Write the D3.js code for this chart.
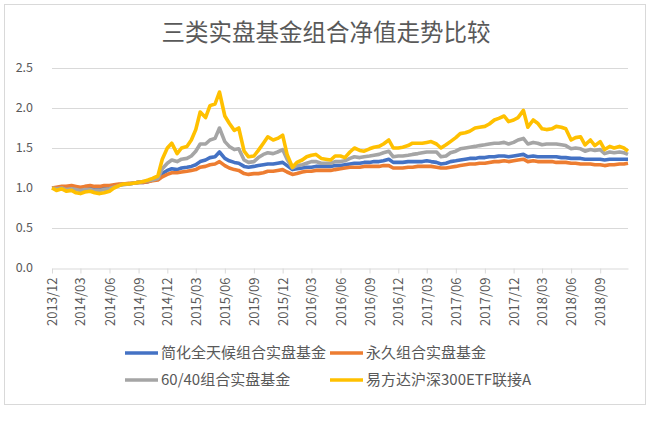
<!DOCTYPE html>
<html>
<head>
<meta charset="utf-8">
<script src="https://cdn.jsdelivr.net/npm/d3@7"></script>
<style>
  body { margin: 0; background: #fff; }
  text { font-family: "Noto Sans CJK SC", "Noto Sans", sans-serif; }
</style>
</head>
<body>
<div id="chart"></div>
<script>
// semi-monthly sample dates
const dates = [
  "2013-12-01","2013-12-15","2014-01-01","2014-01-15","2014-02-01","2014-02-15","2014-03-01","2014-03-15",
  "2014-04-01","2014-04-15","2014-05-01","2014-05-15","2014-06-01","2014-06-15","2014-07-01","2014-07-15",
  "2014-08-01","2014-08-15","2014-09-01","2014-09-15","2014-10-01","2014-10-15","2014-11-01","2014-11-15",
  "2014-12-01","2014-12-15","2015-01-01","2015-01-15","2015-02-01","2015-02-15","2015-03-01","2015-03-15",
  "2015-04-01","2015-04-15","2015-05-01","2015-05-15","2015-06-01","2015-06-15","2015-07-01","2015-07-15",
  "2015-08-01","2015-08-15","2015-09-01","2015-09-15","2015-10-01","2015-10-15","2015-11-01","2015-11-15",
  "2015-12-01","2015-12-15","2016-01-01","2016-01-15","2016-02-01","2016-02-15","2016-03-01","2016-03-15",
  "2016-04-01","2016-04-15","2016-05-01","2016-05-15","2016-06-01","2016-06-15","2016-07-01","2016-07-15",
  "2016-08-01","2016-08-15","2016-09-01","2016-09-15","2016-10-01","2016-10-15","2016-11-01","2016-11-15",
  "2016-12-01","2016-12-15","2017-01-01","2017-01-15","2017-02-01","2017-02-15","2017-03-01","2017-03-15",
  "2017-04-01","2017-04-15","2017-05-01","2017-05-15","2017-06-01","2017-06-15","2017-07-01","2017-07-15",
  "2017-08-01","2017-08-15","2017-09-01","2017-09-15","2017-10-01","2017-10-15","2017-11-01","2017-11-15",
  "2017-12-01","2017-12-15","2018-01-01","2018-01-15","2018-02-01","2018-02-15","2018-03-01","2018-03-15",
  "2018-04-01","2018-04-15","2018-05-01","2018-05-15","2018-06-01","2018-06-15","2018-07-01","2018-07-15",
  "2018-08-01","2018-08-15","2018-09-01","2018-09-15","2018-10-01","2018-10-15","2018-11-01","2018-11-15",
  "2018-11-28"
];

// 简化全天候组合实盘基金
const allWeather = [
  1.00,1.00,1.01,1.00,1.01,1.00,1.00,1.00,1.01,1.00,1.00,1.01,1.02,1.03,1.04,1.05,
  1.05,1.06,1.07,1.07,1.08,1.10,1.11,1.18,1.22,1.24,1.23,1.25,1.26,1.27,1.29,1.33,
  1.35,1.38,1.39,1.45,1.37,1.34,1.32,1.31,1.27,1.26,1.27,1.28,1.29,1.30,1.30,1.31,
  1.32,1.28,1.23,1.24,1.25,1.26,1.26,1.27,1.27,1.27,1.27,1.28,1.28,1.29,1.30,1.31,
  1.31,1.32,1.32,1.33,1.33,1.34,1.36,1.32,1.32,1.32,1.33,1.33,1.33,1.33,1.34,1.33,
  1.32,1.30,1.31,1.33,1.34,1.35,1.36,1.37,1.37,1.38,1.38,1.39,1.39,1.40,1.40,1.39,
  1.40,1.41,1.42,1.39,1.40,1.39,1.39,1.39,1.39,1.39,1.38,1.38,1.37,1.37,1.37,1.36,
  1.36,1.36,1.36,1.35,1.36,1.36,1.36,1.36,1.36
];

// 永久组合实盘基金
const permanent = [
  1.00,1.01,1.02,1.02,1.03,1.02,1.01,1.02,1.03,1.02,1.02,1.03,1.03,1.04,1.05,1.05,
  1.06,1.06,1.07,1.07,1.08,1.09,1.10,1.14,1.17,1.19,1.19,1.20,1.21,1.22,1.23,1.26,
  1.27,1.29,1.30,1.33,1.28,1.25,1.23,1.22,1.18,1.17,1.18,1.18,1.19,1.21,1.21,1.22,
  1.23,1.20,1.17,1.18,1.20,1.21,1.21,1.22,1.22,1.22,1.22,1.23,1.24,1.25,1.26,1.26,
  1.26,1.27,1.27,1.27,1.27,1.28,1.28,1.25,1.25,1.25,1.26,1.26,1.27,1.27,1.27,1.27,
  1.26,1.25,1.25,1.26,1.27,1.28,1.29,1.30,1.30,1.31,1.31,1.32,1.33,1.33,1.34,1.33,
  1.34,1.35,1.36,1.33,1.34,1.33,1.33,1.33,1.33,1.32,1.32,1.32,1.31,1.31,1.30,1.30,
  1.30,1.29,1.29,1.28,1.29,1.29,1.30,1.30,1.31
];

// 60/40组合实盘基金
const sixtyForty = [
  1.00,0.99,1.00,0.98,0.99,0.98,0.97,0.98,0.98,0.97,0.97,0.98,0.99,1.01,1.03,1.04,
  1.05,1.06,1.07,1.08,1.09,1.10,1.12,1.24,1.31,1.35,1.33,1.36,1.37,1.40,1.46,1.55,
  1.55,1.60,1.62,1.75,1.58,1.52,1.48,1.49,1.35,1.32,1.33,1.38,1.42,1.44,1.43,1.45,
  1.48,1.36,1.25,1.28,1.29,1.31,1.33,1.33,1.31,1.31,1.31,1.33,1.33,1.34,1.37,1.39,
  1.38,1.39,1.40,1.41,1.42,1.44,1.46,1.39,1.40,1.40,1.41,1.42,1.43,1.44,1.45,1.45,
  1.45,1.39,1.40,1.44,1.46,1.49,1.50,1.51,1.52,1.53,1.54,1.55,1.56,1.56,1.57,1.55,
  1.57,1.60,1.62,1.55,1.57,1.56,1.54,1.55,1.55,1.55,1.54,1.53,1.49,1.50,1.49,1.46,
  1.48,1.47,1.48,1.43,1.45,1.44,1.45,1.44,1.42
];

// 易方达沪深300ETF联接A
const csi300 = [
  1.00,0.97,0.99,0.96,0.97,0.94,0.93,0.95,0.96,0.94,0.93,0.94,0.96,1.00,1.03,1.05,
  1.05,1.06,1.07,1.08,1.10,1.12,1.15,1.36,1.50,1.56,1.43,1.50,1.52,1.60,1.73,1.95,
  1.88,2.03,2.05,2.20,1.90,1.81,1.72,1.75,1.46,1.39,1.40,1.47,1.56,1.64,1.60,1.62,
  1.66,1.42,1.26,1.32,1.35,1.39,1.41,1.42,1.37,1.36,1.35,1.40,1.40,1.38,1.45,1.50,
  1.47,1.46,1.49,1.51,1.52,1.55,1.60,1.50,1.50,1.51,1.53,1.56,1.56,1.56,1.57,1.58,
  1.55,1.50,1.54,1.58,1.63,1.68,1.69,1.71,1.75,1.76,1.77,1.80,1.85,1.87,1.90,1.83,
  1.85,1.88,1.97,1.76,1.85,1.81,1.74,1.73,1.74,1.77,1.76,1.74,1.60,1.63,1.64,1.54,
  1.60,1.53,1.58,1.48,1.52,1.50,1.52,1.50,1.46
];

const seriesNames = ["简化全天候组合实盘基金", "永久组合实盘基金", "60/40组合实盘基金", "易方达沪深300ETF联接A"];
const seriesColors = ["#4472C4", "#ED7D31", "#A5A5A5", "#FFC000"];
const seriesValues = [allWeather, permanent, sixtyForty, csi300];

const xTickDates = [
  "2013-12-01","2014-03-01","2014-06-01","2014-09-01","2014-12-01","2015-03-01","2015-06-01",
  "2015-09-01","2015-12-01","2016-03-01","2016-06-01","2016-09-01","2016-12-01","2017-03-01",
  "2017-06-01","2017-09-01","2017-12-01","2018-03-01","2018-06-01","2018-09-01"
];
const yTicks = [0, 0.5, 1.0, 1.5, 2.0, 2.5];

const width = 652
const height = 436
const plot = {left: 52, right: 628, top: 68, bottom: 268}

const parse = d3.timeParse("%Y-%m-%d");

const svg = d3.create("svg")
  .attr("width", width)
  .attr("height", height)
  .attr("viewBox", [0, 0, width, height]);

// chart area border
svg.append("rect")
  .attr("x", 4.5)
  .attr("y", 4.5)
  .attr("width", 641)
  .attr("height", 400)
  .attr("fill", "#fff")
  .attr("stroke", "#d9d9d9");

// title
svg.append("text")
  .attr("x", 326)
  .attr("y", 41)
  .attr("text-anchor", "middle")
  .attr("font-size", 23.5)
  .attr("fill", "#595959")
  .text("三类实盘基金组合净值走势比较");

const x = d3.scaleTime()
  .domain([parse("2013-12-01"), parse("2018-11-28")])
  .range([plot.left, plot.right]);

const y = d3.scaleLinear()
  .domain([0, 2.5])
  .range([plot.bottom, plot.top]);

// gridlines
svg.append("g")
  .selectAll("line")
  .data(yTicks.filter(d => d > 0))
  .join("line")
    .attr("x1", plot.left)
    .attr("x2", plot.right)
    .attr("y1", d => Math.round(y(d)) + 0.5)
    .attr("y2", d => Math.round(y(d)) + 0.5)
    .attr("stroke", "#d9d9d9");

// y labels
svg.append("g")
  .selectAll("text")
  .data(yTicks)
  .join("text")
    .attr("x", 33)
    .attr("y", d => y(d))
    .attr("dy", "0.35em")
    .attr("text-anchor", "end")
    .attr("font-size", 12.5)
    .attr("fill", "#595959")
    .text(d => d.toFixed(1));

// x axis
const xAxis = svg.append("g")
  .attr("transform", `translate(0,${plot.bottom + 0.5})`)
  .call(d3.axisBottom(x)
    .tickValues(xTickDates.map(parse))
    .tickFormat(d3.timeFormat("%Y/%m"))
    .tickSize(5)
    .tickSizeOuter(0));

xAxis.select(".domain").attr("stroke", "#d9d9d9");
xAxis.selectAll(".tick line").attr("stroke", "#d9d9d9");
xAxis.selectAll(".tick text")
  .attr("transform", "rotate(-90)")
  .attr("text-anchor", "end")
  .attr("x", -9)
  .attr("y", 0)
  .attr("dy", "0.35em")
  .attr("font-size", 13)
  .attr("font-family", "\"Noto Sans CJK SC\", sans-serif")
  .attr("fill", "#595959");

// lines
const line = d3.line()
  .x((d, i) => x(parse(dates[i])))
  .y(d => y(d));

svg.append("g")
  .selectAll("path")
  .data(seriesValues)
  .join("path")
    .attr("d", d => line(d))
    .attr("fill", "none")
    .attr("stroke", (d, i) => seriesColors[i])
    .attr("stroke-width", 3.6)
    .attr("stroke-linejoin", "round");

// legend
const legendPos = [[125, 353], [330, 353], [125, 380], [330, 380]];
const legend = svg.append("g")
  .selectAll("g")
  .data(seriesNames)
  .join("g")
    .attr("transform", (d, i) => `translate(${legendPos[i][0]},${legendPos[i][1]})`);

legend.append("line")
  .attr("x1", 0)
  .attr("x2", 33)
  .attr("stroke", (d, i) => seriesColors[i])
  .attr("stroke-width", 3.6);

legend.append("text")
  .attr("x", 36)
  .attr("dy", "0.35em")
  .attr("font-size", 15)
  .attr("fill", "#595959")
  .text(d => d);

document.getElementById("chart").append(svg.node());
</script>
</body>
</html>
